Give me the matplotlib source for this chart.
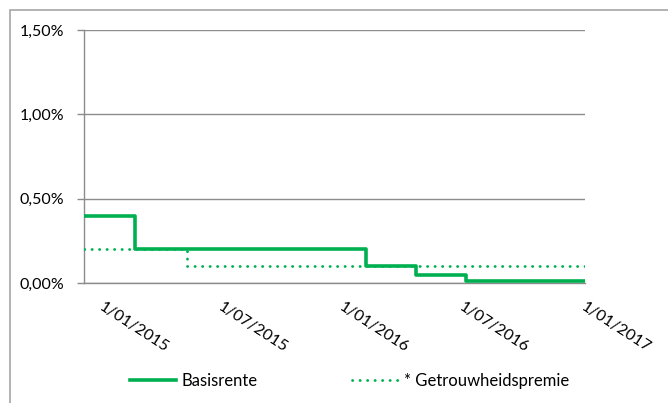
import numpy as np
import matplotlib
matplotlib.use('Agg')
import matplotlib.pyplot as plt
import matplotlib.dates as mdates
import matplotlib.transforms as mtransforms
from matplotlib.patches import Rectangle
from matplotlib.ticker import FuncFormatter
from datetime import datetime

plt.rcParams['font.family'] = ['Lato', 'DejaVu Sans']

# step dates (start of each period) and rates in %
basis_dates = ['2015-01-01', '2015-03-17', '2016-02-16', '2016-04-29', '2016-07-12', '2017-01-01']
basis_rates = [0.40, 0.20, 0.10, 0.05, 0.01, 0.01]

premie_dates = ['2015-01-01', '2015-06-01', '2017-01-01']
premie_rates = [0.20, 0.10, 0.10]

tick_dates = ['2015-01-01', '2015-07-01', '2016-01-01', '2016-07-01', '2017-01-01']
tick_labels = ['1/01/2015', '1/07/2015', '1/01/2016', '1/07/2016', '1/01/2017']

green = '#00B050'
grey = '#8C8C8C'
fs = 11.5

def to_dt(lst):
    return [datetime.strptime(d, '%Y-%m-%d') for d in lst]

fig = plt.figure(figsize=(6.68, 4.03), dpi=100)
ax = fig.add_axes([84 / 668, 1 - 283 / 403, 501 / 668, 253 / 403])

# outer chart frame
fig.patches.append(Rectangle((10 / 668, -0.1), 2, 1 - 10 / 403 + 0.1,
                             transform=fig.transFigure, fill=False,
                             edgecolor='#A6A6A6', linewidth=1.2))

ax.step(to_dt(basis_dates), basis_rates, where='post', color=green,
        linewidth=2.6, label='Basisrente', zorder=3)
ax.step(to_dt(premie_dates), premie_rates, where='post', color=green,
        linewidth=2.0, linestyle=(0, (0.1, 2.6)), dash_capstyle='round',
        label='* Getrouwheidspremie', zorder=3)

ax.set_xlim(to_dt(['2015-01-01'])[0], to_dt(['2017-01-01'])[0])
ax.set_ylim(0, 1.5)
ax.set_yticks([0, 0.5, 1.0, 1.5])
ax.yaxis.set_major_formatter(FuncFormatter(lambda v, p: ('%.2f%%' % v).replace('.', ',')))
ax.yaxis.grid(True, color=grey, linewidth=1.0)
ax.set_axisbelow(True)

# x labels, rotated, starting a little right of / below each tick
ax.set_xticks(to_dt(tick_dates))
ax.set_xticklabels([])
for i, (d, lab) in enumerate(zip(to_dt(tick_dates), tick_labels)):
    dx = (20 - 4.75 * i) / 100
    offset = mtransforms.ScaledTranslation(dx, -17 / 100, fig.dpi_scale_trans)
    ax.text(mdates.date2num(d), 0, lab,
            transform=ax.get_xaxis_transform() + offset, rotation=-33,
            ha='left', va='top', rotation_mode='anchor', fontsize=fs,
            clip_on=False)

ax.tick_params(axis='x', length=0)
ax.tick_params(axis='y', length=5, width=1.0, color=grey, pad=9,
               labelsize=fs, labelcolor='#000000')
for s in ['top', 'right']:
    ax.spines[s].set_visible(False)
ax.spines['left'].set_color(grey)
ax.spines['bottom'].set_color(grey)
ax.spines['left'].set_linewidth(1.0)
ax.spines['bottom'].set_linewidth(1.0)

ax.legend(loc='center', bbox_to_anchor=(0.523, (403 - 381) / 403),
          bbox_transform=fig.transFigure, ncol=2, frameon=False,
          fontsize=12, handlelength=2.8, columnspacing=5.7,
          handletextpad=0.3)

fig.savefig('out.png', dpi=100)
